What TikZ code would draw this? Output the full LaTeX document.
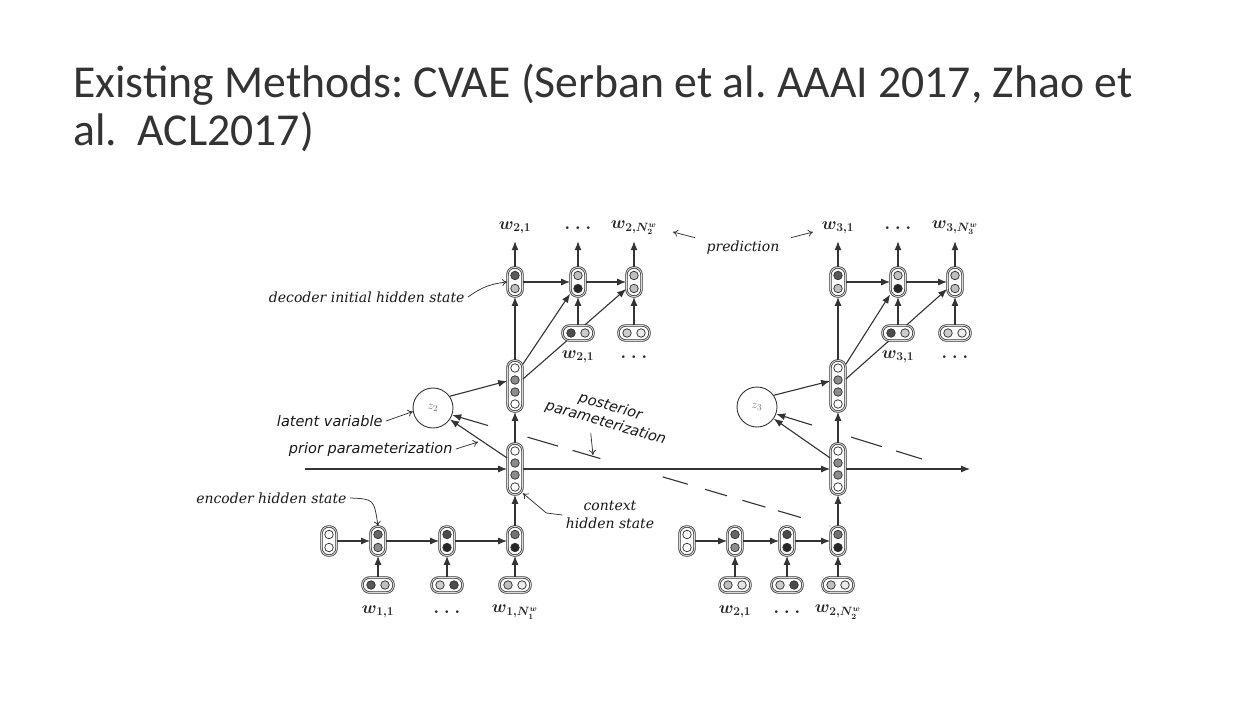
\documentclass[tikz,border=0pt]{standalone}
\usepackage{amsmath,amssymb}
\usepackage{fontspec}
\newfontfamily\titlefont{Carlito}
\newfontfamily\labelfont{DejaVu Serif}
\newfontfamily\notefont{DejaVu Sans}
\usetikzlibrary{arrows.meta,calc}
\frenchspacing
\def\dts{$\cdot$\hspace{5pt}$\cdot$\hspace{5pt}$\cdot$}
% vertical cell with two units
\newcommand{\vtwo}[4]{%
  \node[vcell] (#1) at (#2) {};
  \node[dot,fill=#3] (#1a) at ([yshift=6.5pt]#1.center) {};
  \node[dot,fill=#4] (#1b) at ([yshift=-6.5pt]#1.center) {};}
% horizontal cell (word input)
\newcommand{\htwo}[4]{%
  \node[hcell] (#1) at (#2) {};
  \node[dot,fill=#3] (#1a) at ([xshift=-7pt]#1.center) {};
  \node[dot,fill=#4] (#1b) at ([xshift=7pt]#1.center) {};}
% vertical cell with four units
\newcommand{\vfour}[4]{%
  \node[qcell] (#1) at (#2) {};
  \node[dot,fill=#3] (#1a) at ([yshift=18pt]#1.center) {};
  \node[dot,fill=#4] (#1b) at ([yshift=6pt]#1.center) {};
  \node[dot,fill=#4] (#1c) at ([yshift=-6pt]#1.center) {};
  \node[dot,fill=#3] (#1d) at ([yshift=-18pt]#1.center) {};}

\begin{document}
\begin{tikzpicture}[x=1pt,y=-1pt,>={Latex[length=9pt,width=7pt]},
    cell/.style={draw=black!80,line width=0.75pt,double=black!15,double distance=0.9pt,fill=white,inner sep=0pt,rounded corners=7pt},
    vcell/.style={cell,minimum width=15pt,minimum height=29pt},
    hcell/.style={cell,minimum width=31pt,minimum height=15pt},
    qcell/.style={cell,minimum width=15pt,minimum height=51pt},
    dot/.style={circle,draw=black!80,line width=0.75pt,minimum size=8.5pt,inner sep=0pt},
    latent/.style={circle,draw=black!80,line width=0.9pt,minimum size=40pt,inner sep=0pt,fill=white,font=\fontsize{13}{15}\selectfont,text=black!55},
    link/.style={->,draw=black!80,line width=1.1pt},
    pointer/.style={-{To[length=5pt,width=7pt]},draw=black!80,line width=0.75pt},
    post/.style={<-,draw=black!80,line width=1.1pt,dash pattern=on 29pt off 41pt on 32pt off 15pt on 29pt off 65pt on 26pt off 18pt on 23pt off 16pt on 24pt off 13pt on 24pt off 30pt},
    lbl/.style={font=\labelfont\itshape\fontsize{14}{18}\selectfont,text=black!90},
    note/.style={font=\notefont\itshape\fontsize{14.5}{17}\selectfont,text=black!90},
    word/.style={font=\boldmath\fontsize{17}{20}\selectfont,text=black!85,inner sep=0pt,minimum height=26pt}]
  \fill[white] (0,0) rectangle (1255,720);
  \useasboundingbox (0,0) rectangle (1255,720);
  % title
  \node[anchor=base west,inner sep=0pt,text=black!80,font=\titlefont\fontsize{45.7}{52}\selectfont] (title1) at (73,97) {Existing Methods: CVAE (Serban et al. AAAI 2017, Zhao et};
  \node[anchor=base west,inner sep=0pt,text=black!80,font=\titlefont\fontsize{45.7}{52}\selectfont] (title2) at (73,145) {al.\ \ ACL2017)};

  % first utterance: encoder
  \vtwo{ei1}{329,541}{white}{white}
  \vtwo{e11}{378,541}{black!60}{black!45}
  \vtwo{e12}{447,541}{black!70}{black!85}
  \vtwo{e13}{515,541}{black!55}{black!85}
  \htwo{x11}{378,585}{black!65}{black!25}
  \htwo{x12}{447,585}{black!20}{black!70}
  \htwo{x13}{515,585}{black!25}{black!8}
  \node[word] (w11) at (378,612) {$w_{1,1}$};
  \node[word] (w12) at (447,612) {\dts};
  \node[word] (w13) at (515,612) {$w_{1,N_1^w}$};
  \draw[link] (ei1) -- (e11);
  \draw[link] (e11) -- (e12);
  \draw[link] (e12) -- (e13);
  \foreach \i in {1,2,3} \draw[link] (x1\i) -- (e1\i);

  % context and decoder of the second utterance
  \vfour{ctx1}{515,469}{white}{black!45}
  \vfour{dec1}{515,386}{white}{black!45}
  \node[latent] (z2) at (433,408) {$z_2$};
  \coordinate (start) at (305,469);
  \draw[link] (start) -- (ctx1);
  \draw[link] (e13) -- (ctx1);
  \draw[link] (ctx1) -- (dec1);
  \draw[link] ([yshift=11pt]ctx1.west) -- (z2);
  \draw[link] (z2.35) -- ([yshift=5pt]dec1.west);
  \vtwo{d11}{515,282}{black!65}{black!25}
  \vtwo{d12}{578,282}{black!25}{black!85}
  \vtwo{d13}{634,282}{black!25}{black!25}
  \draw[link] (dec1) -- (d13);
  \draw[link] ([yshift=-4pt]dec1.north east) -- (d12);
  \draw[link] (dec1) -- (d11);
  \draw[link] (d11) -- (d12);
  \draw[link] (d12) -- (d13);
  \htwo{di12}{578,333}{black!70}{black!20}
  \htwo{di13}{634,333}{black!20}{black!8}
  \draw[link] (di12) -- (d12);
  \draw[link] (di13) -- (d13);
  \node[word] (o11) at (515,228) {$w_{2,1}$};
  \node[word] (o12) at (578,228) {\dts};
  \node[word] (o13) at (634,228) {$w_{2,N_2^w}$};
  \node[word] (v12) at (578,357) {$w_{2,1}$};
  \node[word] (v13) at (634,357) {\dts};
  \foreach \i in {1,2,3} \draw[link] (d1\i) -- (o1\i);

  % second utterance: encoder
  \vtwo{ei2}{687,541}{white}{white}
  \vtwo{e21}{735,541}{black!60}{black!45}
  \vtwo{e22}{787,541}{black!70}{black!85}
  \vtwo{e23}{838,541}{black!55}{black!85}
  \htwo{x21}{735,585}{black!25}{black!10}
  \htwo{x22}{787,585}{black!20}{black!70}
  \htwo{x23}{838,585}{black!25}{black!8}
  \node[word] (w21) at (735,612) {$w_{2,1}$};
  \node[word] (w22) at (787,612) {\dts};
  \node[word] (w23) at (838,612) {$w_{2,N_2^w}$};
  \draw[link] (ei2) -- (e21);
  \draw[link] (e21) -- (e22);
  \draw[link] (e22) -- (e23);
  \foreach \i in {1,2,3} \draw[link] (x2\i) -- (e2\i);

  % context and decoder of the third utterance
  \vfour{ctx2}{838,469}{white}{black!45}
  \vfour{dec2}{838,386}{white}{black!45}
  \node[latent] (z3) at (757,407) {$z_3$};
  \coordinate (stop) at (970,469);
  \draw[link] (ctx1) -- (ctx2);
  \draw[link] (ctx2) -- (stop);
  \draw[link] (e23) -- (ctx2);
  \draw[link] (ctx2) -- (dec2);
  \draw[link] ([yshift=11pt]ctx2.west) -- (z3);
  \draw[link] (z3.35) -- ([yshift=5pt]dec2.west);
  \vtwo{d21}{838,282}{black!65}{black!25}
  \vtwo{d22}{898,282}{black!25}{black!85}
  \vtwo{d23}{955,282}{black!25}{black!25}
  \draw[link] (dec2) -- (d23);
  \draw[link] ([yshift=-4pt]dec2.north east) -- (d22);
  \draw[link] (dec2) -- (d21);
  \draw[link] (d21) -- (d22);
  \draw[link] (d22) -- (d23);
  \htwo{di22}{898,333}{black!70}{black!20}
  \htwo{di23}{955,333}{black!20}{black!8}
  \draw[link] (di22) -- (d22);
  \draw[link] (di23) -- (d23);
  \node[word] (o21) at (838,228) {$w_{3,1}$};
  \node[word] (o22) at (898,228) {\dts};
  \node[word] (o23) at (955,228) {$w_{3,N_3^w}$};
  \node[word] (v22) at (898,357) {$w_{3,1}$};
  \node[word] (v23) at (955,357) {\dts};
  \foreach \i in {1,2,3} \draw[link] (d2\i) -- (o2\i);

  % posterior parameterization (dashed)
  \coordinate (next) at (922,459);
  \draw[post] (z2.-20) -- (e23.north west);
  \draw[post] (z3.-20) -- (next);

  % annotations
  \node[lbl,anchor=east] (lbldec) at (468,297) {decoder initial hidden state};
  \draw[pointer] (lbldec.east) to[bend left=15] (d11.west);
  \node[lbl] (lblpred) at (743,248) {prediction};
  \coordinate (pl) at (673,232);
  \coordinate (pr) at (813,232);
  \draw[pointer] ([xshift=-8pt]lblpred.north west) -- (pl);
  \draw[pointer] ([xshift=8pt]lblpred.north east) -- (pr);
  \node[note,anchor=east] (lbllat) at (386,421) {latent variable};
  \draw[pointer] (lbllat.east) -- (z2.190);
  \node[note,anchor=east] (lblprior) at (456,449) {prior parameterization};
  \coordinate (pp) at (478,442);
  \draw[pointer] (lblprior.east) -- (pp);
  \node[note,rotate=-16,align=center] (lblpost) at (608,415) {posterior\\parameterization};
  \coordinate (pq) at (593,455);
  \draw[pointer] ([xshift=-12pt]lblpost.south) -- (pq);
  \node[lbl,anchor=east] (lblenc) at (350,498) {encoder hidden state};
  \draw[pointer] (lblenc.east) .. controls (374,499) .. (e11.north);
  \node[lbl,align=center] (lblctx) at (610,515) {context\\hidden state};
  \draw[pointer] (lblctx.west) -- ++(-16,-2) -- (ctx1.-72);
\end{tikzpicture}
\end{document}
